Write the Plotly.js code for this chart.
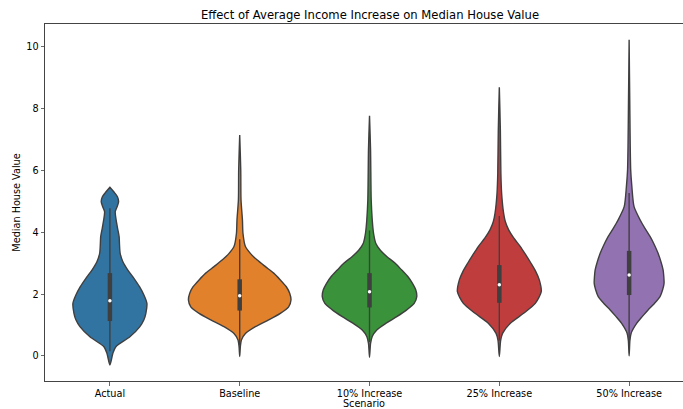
<!DOCTYPE html>
<html>
<head>
<meta charset="utf-8">
<script src="https://cdn.plot.ly/plotly-3.0.1.min.js"></script>
<style>html,body{margin:0;padding:0;background:#fff;}#chart{width:683px;height:409px;}</style>
</head>
<body>
<div id="chart"></div>
<script>
// Scenario categories (x tick labels)
const categories = ['Actual', 'Baseline', '10% Increase', '25% Increase', '50% Increase'];

// Density outlines: y values and half-widths (in category units)
const actualY  = [-0.29, 0.09, 0.30, 0.62, 0.95, 1.17, 1.38, 1.70, 1.97, 2.24, 2.51, 2.78, 3.05, 3.32, 3.59, 3.86, 4.13, 4.40, 4.67, 4.81, 4.99, 5.15, 5.27, 5.46];
const actualW  = [0, 0.023, 0.046, 0.154, 0.231, 0.262, 0.277, 0.285, 0.262, 0.228, 0.185, 0.138, 0.100, 0.079, 0.074, 0.071, 0.059, 0.048, 0.041, 0.054, 0.067, 0.058, 0.038, 0];
const baseY    = [-0.02, 0.30, 0.52, 0.73, 0.95, 1.17, 1.38, 1.59, 1.81, 2.03, 2.24, 2.46, 2.68, 2.89, 3.11, 3.32, 3.54, 3.97, 4.40, 5.05, 6.02, 7.15];
const baseW    = [0, 0.005, 0.013, 0.044, 0.121, 0.223, 0.313, 0.377, 0.395, 0.385, 0.359, 0.313, 0.262, 0.198, 0.133, 0.082, 0.044, 0.025, 0.021, 0.010, 0.008, 0];
const inc10Y   = [-0.04, 0.41, 0.63, 0.84, 1.06, 1.27, 1.49, 1.70, 1.92, 2.14, 2.35, 2.57, 2.78, 3.00, 3.22, 3.43, 3.65, 3.97, 4.40, 5.05, 6.67, 7.77];
const inc10W   = [0, 0.008, 0.021, 0.056, 0.128, 0.210, 0.287, 0.344, 0.364, 0.356, 0.331, 0.295, 0.248, 0.198, 0.133, 0.082, 0.048, 0.031, 0.021, 0.013, 0.008, 0];
const inc25Y   = [-0.02, 0.50, 0.73, 1.06, 1.38, 1.70, 2.08, 2.46, 2.73, 3.00, 3.27, 3.54, 3.81, 4.08, 4.35, 4.62, 5.25, 5.91, 7.31, 8.69];
const inc25W   = [0, 0.010, 0.025, 0.085, 0.187, 0.277, 0.323, 0.308, 0.281, 0.244, 0.204, 0.162, 0.112, 0.072, 0.046, 0.033, 0.018, 0.012, 0.008, 0];
const inc50Y   = [0.00, 0.50, 0.73, 1.06, 1.28, 1.49, 1.70, 1.92, 2.14, 2.35, 2.57, 2.78, 3.05, 3.32, 3.59, 3.86, 4.13, 4.40, 4.83, 5.48, 6.02, 8.18, 10.23];
const inc50W   = [0, 0.006, 0.015, 0.059, 0.102, 0.146, 0.195, 0.238, 0.258, 0.269, 0.267, 0.262, 0.245, 0.223, 0.195, 0.162, 0.122, 0.085, 0.038, 0.021, 0.012, 0.005, 0];

// Box statistics
const q1          = [1.13, 1.47, 1.57, 1.72, 1.97];
const medians     = [1.79, 1.95, 2.08, 2.30, 2.62];
const q3          = [2.68, 2.48, 2.68, 2.94, 3.40];
const whiskerLow  = [0.15, 0.35, 0.45, 0.50, 0.50];
const whiskerHigh = [4.78, 3.78, 4.06, 4.53, 5.27];

const colors = ['#3274a1', '#e1812c', '#3a923a', '#c03d3e', '#9372b2'];
const edge = '#3f3f3f';

const outlinesY = [actualY, baseY, inc10Y, inc25Y, inc50Y];
const outlinesW = [actualW, baseW, inc10W, inc25W, inc50W];

const traces = [];
categories.forEach((cat, i) => {
  const ys = outlinesY[i], ws = outlinesW[i];
  const xr = ws.map(w => i + w);
  const xl = ws.map(w => i - w).reverse();
  const yl = ys.slice().reverse();
  traces.push({
    type: 'scatter', mode: 'lines', name: cat,
    x: xr.concat(xl), y: ys.concat(yl),
    fill: 'toself', fillcolor: colors[i],
    line: {color: edge, width: 1.4, shape: 'spline', smoothing: 0.7},
    hoverinfo: 'skip', showlegend: false
  });
  traces.push({
    type: 'scatter', mode: 'lines', x: [i, i], y: [whiskerLow[i], whiskerHigh[i]],
    line: {color: edge, width: 1.4}, hoverinfo: 'skip', showlegend: false
  });
  traces.push({
    type: 'scatter', mode: 'lines', x: [i, i], y: [q1[i], q3[i]],
    line: {color: edge, width: 4.5}, hoverinfo: 'skip', showlegend: false
  });
  traces.push({
    type: 'scatter', mode: 'markers', x: [i], y: [medians[i]],
    marker: {color: 'white', size: 3.5, line: {width: 0}}, hoverinfo: 'skip', showlegend: false
  });
});

const axisFont = {family: 'DejaVu Sans', size: 9.7, color: '#000'};
const layout = {
  width: 683, height: 409,
  margin: {l: 45, r: 0, t: 24, b: 28},
  paper_bgcolor: '#fff', plot_bgcolor: '#fff',
  font: {family: 'DejaVu Sans', size: 9.7, color: '#000'},
  title: {text: 'Effect of Average Income Increase on Median House Value',
          font: {family: 'DejaVu Sans', size: 11.6, color: '#000'},
          xref: 'container', x: 0.5417, xanchor: 'center', yref: 'container', y: 0.964, yanchor: 'middle'},
  xaxis: {
    range: [-0.5, 4.415], tickmode: 'array', tickvals: categories.map((c, i) => i), ticktext: categories,
    showgrid: false, zeroline: false, showline: true, linecolor: '#444', linewidth: 1, mirror: true,
    ticks: 'outside', ticklen: 3.5, tickwidth: 0.8, tickcolor: '#444', tickfont: axisFont,
    title: {text: 'Scenario', font: axisFont, standoff: 4}
  },
  yaxis: {
    range: [-0.81, 10.74], tickmode: 'linear', tick0: 0, dtick: 2,
    showgrid: false, zeroline: false, showline: true, linecolor: '#444', linewidth: 1, mirror: false,
    ticks: 'outside', ticklen: 3.5, tickwidth: 0.8, tickcolor: '#444', tickfont: axisFont,
    title: {text: 'Median House Value', font: axisFont, standoff: 3}
  }
};

Plotly.newPlot('chart', traces, layout, {staticPlot: true, displayModeBar: false});
</script>
</body>
</html>
